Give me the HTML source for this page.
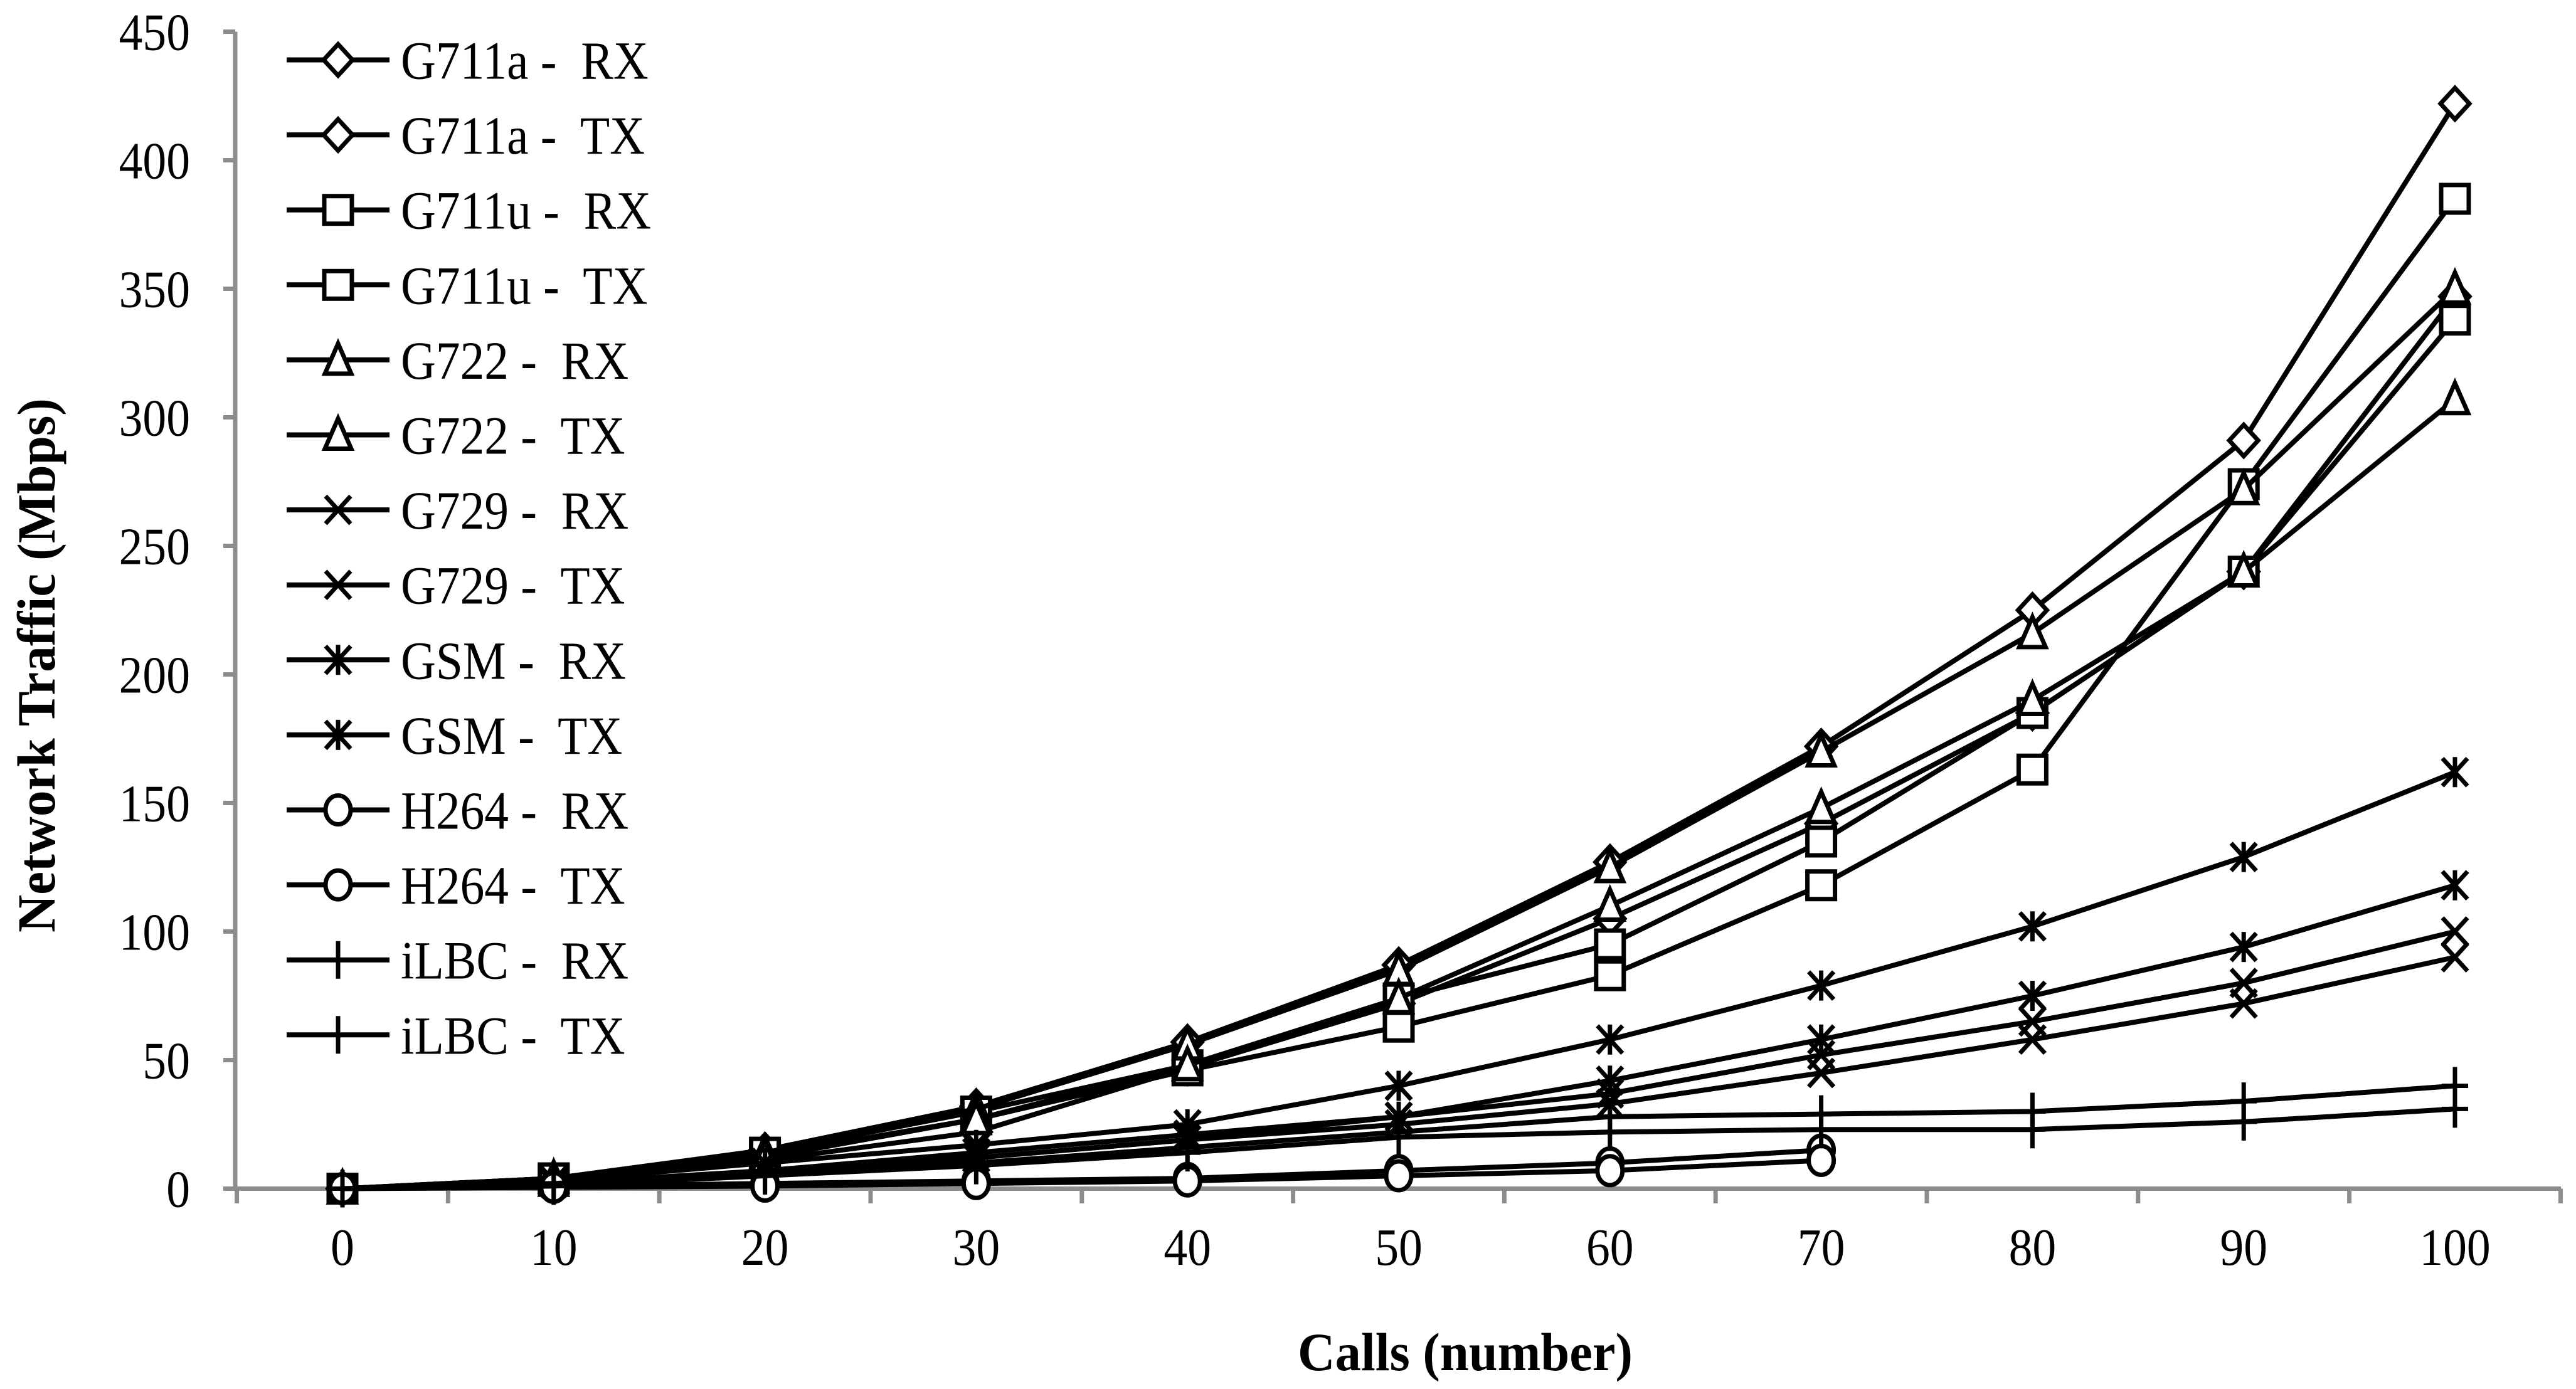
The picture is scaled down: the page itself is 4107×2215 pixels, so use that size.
<!DOCTYPE html>
<html><head><meta charset="utf-8"><style>
html,body{margin:0;padding:0;background:#fff;}
svg{display:block;}
text{font-family:"Liberation Serif","Times New Roman",serif;fill:#000;}
</style></head><body>
<svg id="chart" width="4107" height="2215" viewBox="0 0 4107 2215" xmlns="http://www.w3.org/2000/svg">
<g id="axes"></g>
<g id="plot"></g>
<g id="legend"></g>
<text x="0" y="0" transform="translate(87,1061) rotate(-90)" text-anchor="middle" font-size="86" font-weight="bold" textLength="852" lengthAdjust="spacingAndGlyphs">Network Traffic (Mbps)</text>
<text x="2336" y="2185" text-anchor="middle" font-size="86" font-weight="bold" textLength="534" lengthAdjust="spacingAndGlyphs">Calls (number)</text>
</svg>
<script>
const categories = [0,10,20,30,40,50,60,70,80,90,100];
const yTicks = [0,50,100,150,200,250,300,350,400,450];
const seriesNames = ["G711a -  RX","G711a -  TX","G711u -  RX","G711u -  TX","G722 -  RX","G722 -  TX","G729 -  RX","G729 -  TX","GSM -  RX","GSM -  TX","H264 -  RX","H264 -  TX","iLBC -  RX","iLBC -  TX"];
const seriesMarkers = ["diamond","diamond","square","square","triangle","triangle","x","x","star","star","circle","circle","plus","plus"];
const g711aRX = [0,4,15,32,57,87,127,172,225,291,422];
const g711aTX = [0,3,11,22,47,72,105,142,185,240,347];
const g711uRX = [0,4,13,27,46,63,83,118,163,274,385];
const g711uTX = [0,4,14,30,48,74,95,135,185,240,338];
const g722RX = [0,4,14,31,56,85,125,170,216,272,350];
const g722TX = [0,3,12,27,48,74,110,148,190,240,307];
const g729RX = [0,2,7,14,21,28,37,52,65,80,100];
const g729TX = [0,2,6,12,19,25,33,45,58,72,90];
const gsmRX = [0,3,10,17,25,40,58,79,102,129,162];
const gsmTX = [0,2,6,12,19,28,42,58,75,94,118];
const h264RX = [0,1,2,3,4,7,10,15,null,null,null];
const h264TX = [0,0.5,1,2,3,5,7,11,null,null,null];
const ilbcRX = [0,2,6,10,16,22,28,29,30,34,40];
const ilbcTX = [0,1,5,9,14,20,22,23,23,26,31];
const allSeries = [g711aRX,g711aTX,g711uRX,g711uTX,g722RX,g722TX,g729RX,g729TX,gsmRX,gsmTX,h264RX,h264TX,ilbcRX,ilbcTX];

const NS = "http://www.w3.org/2000/svg";
const X0 = 546, XSTEP = 336.8, Y0 = 1895.5, YMAX = 450, YTOP = 50.5;
function xPos(i){ return X0 + i*XSTEP; }
function yPos(v){ return Y0 - v*(Y0-YTOP)/YMAX; }
function mk(tag, attrs, parent){ const e=document.createElementNS(NS,tag); for(const k in attrs) e.setAttribute(k,attrs[k]); parent.appendChild(e); return e; }

const axes = document.getElementById('axes');
const GRAY = "#8c8c8c";
let yAxis = mk('line',{x1:375,y1:YTOP,x2:375,y2:Y0,stroke:GRAY,'stroke-width':7},axes);


let xAxis = mk('line',{x1:356, y1:Y0, x2:4083, y2:Y0, stroke:GRAY,'stroke-width':7},axes);


yTicks.forEach(t=>{
  const y=yPos(t);
  const tk=mk('line',{x1:356,y1:y,x2:375,y2:y,stroke:GRAY,'stroke-width':7},axes);
  
  
  const lb=mk('text',{x:0,y:0,'text-anchor':'end','font-size':84,transform:`translate(303,${y+29}) scale(0.9,1)`},axes);
  lb.textContent=t;
  
  
});
for(let i=0;i<=categories.length;i++){
  const x = X0 - XSTEP/2 + i*XSTEP;
  const tk=mk('line',{x1:x,y1:Y0,x2:x,y2:1919,stroke:GRAY,'stroke-width':7},axes);
  
  
}
categories.forEach((c,i)=>{
  const lb=mk('text',{x:0,y:0,'text-anchor':'middle','font-size':84,transform:`translate(${xPos(i)},2017) scale(0.9,1)`},axes);
  lb.textContent=c;
  
  
});

function marker(type, cx, cy, parent){
  const s=22, sw=7;
  let e;
  if(type==='diamond') e=mk('polygon',{points:`${cx},${cy-25} ${cx+23},${cy} ${cx},${cy+25} ${cx-23},${cy}`,fill:'#fff',stroke:'#000','stroke-width':sw},parent);
  else if(type==='square') e=mk('rect',{x:cx-s,y:cy-s,width:2*s,height:2*s,fill:'#fff',stroke:'#000','stroke-width':sw},parent);
  else if(type==='triangle') e=mk('polygon',{points:`${cx},${cy-26} ${cx+21},${cy+22} ${cx-21},${cy+22}`,fill:'#fff',stroke:'#000','stroke-width':sw},parent);
  else if(type==='circle') e=mk('ellipse',{cx:cx,cy:cy,rx:20,ry:23,fill:'#fff',stroke:'#000','stroke-width':sw},parent);
  else if(type==='x') e=mk('path',{d:`M${cx-20},${cy-22}L${cx+20},${cy+22}M${cx+20},${cy-22}L${cx-20},${cy+22}`,stroke:'#000','stroke-width':sw,fill:'none'},parent);
  else if(type==='star') e=mk('path',{d:`M${cx-20},${cy-22}L${cx+20},${cy+22}M${cx+20},${cy-22}L${cx-20},${cy+22}M${cx},${cy-24}L${cx},${cy+24}`,stroke:'#000','stroke-width':sw,fill:'none'},parent);
  else e=mk('path',{d:`M${cx-21},${cy}L${cx+21},${cy}M${cx},${cy-30}L${cx},${cy+30}`,stroke:'#000','stroke-width':sw,fill:'none'},parent);
  return e;
}

const plot=document.getElementById('plot');
allSeries.forEach((vals,si)=>{
  const g=mk('g',{},plot);
  
  
  let pts=[];
  vals.forEach((v,i)=>{ if(v!==null) pts.push(xPos(i)+','+yPos(v)); });
  const ln=mk('polyline',{points:pts.join(' '),fill:'none',stroke:'#000','stroke-width':8,'stroke-linejoin':'round'},g);
  
  
  vals.forEach((v,i)=>{
    if(v===null) return;
    const m=marker(seriesMarkers[si],xPos(i),yPos(v),g);
    
    
  });
});

const legend=document.getElementById('legend');
seriesNames.forEach((n,i)=>{
  const y=95.5+i*119.6;
  const g=mk('g',{},legend);
  
  
  mk('line',{x1:457,y1:y,x2:621,y2:y,stroke:'#000','stroke-width':8},g);
  marker(seriesMarkers[i],539,y,g);
  const t=mk('text',{x:0,y:0,'font-size':86,transform:`translate(639,${y+30}) scale(0.9,1)`},g);
  t.setAttribute('style','white-space:pre');
  t.textContent=n;
  
  
});
</script>
</body></html>
